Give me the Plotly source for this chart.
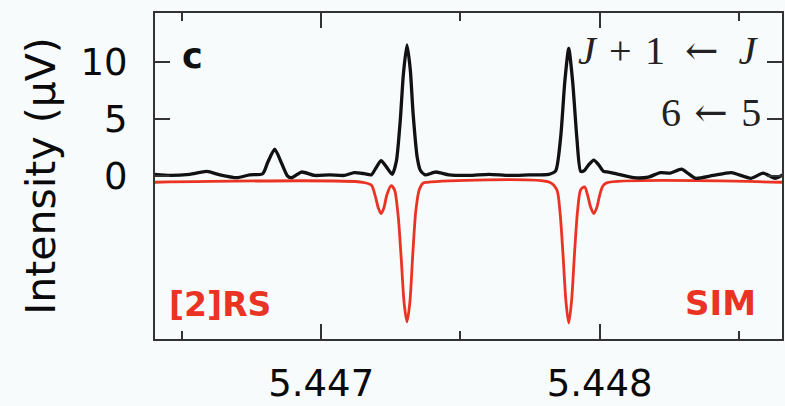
import plotly.graph_objects as go

# ---- data ----
freq_exp = [5.446403, 5.446457, 5.446528, 5.446589, 5.446636, 5.446697, 5.446743,
            5.446790, 5.446808, 5.446833, 5.446858, 5.446879, 5.446894, 5.446929,
            5.446976, 5.447030, 5.447083, 5.447119, 5.447155, 5.447180, 5.447194,
            5.447215, 5.447234, 5.447255, 5.447270, 5.447284, 5.447295, 5.447308,
            5.447320, 5.447330, 5.447345, 5.447356, 5.447373, 5.447412, 5.447459,
            5.447531, 5.447603, 5.447674, 5.447746, 5.447817, 5.447842, 5.447860,
            5.447875, 5.447889, 5.447903, 5.447918, 5.447932, 5.447946, 5.447961,
            5.447979, 5.447996, 5.448014, 5.448032, 5.448068, 5.448122, 5.448175,
            5.448218, 5.448254, 5.448294, 5.448319, 5.448344, 5.448408, 5.448473,
            5.448544, 5.448587, 5.448630, 5.448659]
intensity_exp = [0.15, 0.05, 0.15, 0.4, 0.1, -0.15, 0.1,
                 0.2, 1.2, 2.35, 1.1, 0.0, -0.15, 0.35,
                 0.05, 0.1, 0.05, 0.3, 0.2, 0.1, 0.6,
                 1.35, 0.8, 0.15, 1.3, 4.9, 8.9, 11.5,
                 9.3, 5.5, 1.6, 0.5, 0.1, 0.35, 0.1,
                 0.05, 0.15, 0.05, 0.1, 0.15, 0.45, 3.4,
                 8.3, 11.2, 8.3, 3.4, 0.4, 0.5, 1.0,
                 1.4, 1.0, 0.4, 0.35, 0.15, -0.15, -0.1,
                 0.3, 0.25, 0.6, 0.2, -0.2, 0.05, 0.3,
                 -0.2, 0.25, -0.2, 0.1]

freq_sim = [5.446403, 5.447150, 5.447180, 5.447194, 5.447205, 5.447215, 5.447225,
            5.447236, 5.447251, 5.447263, 5.447276, 5.447287, 5.447298, 5.447308,
            5.447318, 5.447329, 5.447340, 5.447352, 5.447366, 5.447380, 5.447820,
            5.447846, 5.447857, 5.447868, 5.447879, 5.447889, 5.447899, 5.447910,
            5.447921, 5.447932, 5.447946, 5.447957, 5.447968, 5.447979, 5.447990,
            5.448000, 5.448011, 5.448025, 5.448659]
intensity_sim = [-0.55, -0.55, -0.8, -1.75, -2.8, -3.3, -2.8,
                 -1.65, -0.85, -1.2, -3.4, -7.1, -11.2, -12.8,
                 -11.2, -6.8, -3.0, -1.2, -0.62, -0.55, -0.55,
                 -1.2, -3.0, -6.7, -11.0, -12.9, -11.0, -6.7,
                 -3.0, -1.2, -0.95, -1.7, -2.75, -3.3, -2.75,
                 -1.7, -0.9, -0.6, -0.55]

x_ticks = [5.447, 5.448]
x_minor = [5.4465, 5.4475, 5.4485]
y_ticks = [0, 5, 10]
x_range = [5.446403, 5.448655]
y_range = [-14.3, 14.3]

RED = "#ea3323"
BG = "#f8fbfc"
SANS = "DejaVu Sans"
SERIF = "Liberation Serif"
S3 = "\u2004"   # three-per-em space
S2 = "\u2002"   # en space
ARROW = '<span style="font-family:DejaVu Serif;font-size:40px">←</span>'

fig = go.Figure()
fig.add_trace(go.Scatter(x=freq_sim, y=intensity_sim, mode="lines",
                         line=dict(color=RED, width=2.8, shape="spline", smoothing=0.8),
                         showlegend=False, hoverinfo="skip"))
fig.add_trace(go.Scatter(x=freq_exp, y=intensity_exp, mode="lines",
                         line=dict(color="#111111", width=3.3, shape="spline", smoothing=0.6),
                         showlegend=False, hoverinfo="skip"))

fig.update_layout(
    width=785, height=406,
    margin=dict(l=155, r=1, t=13, b=61),
    paper_bgcolor=BG, plot_bgcolor=BG,
    font=dict(family=SANS, color="#111111"),
)
fig.update_xaxes(range=x_range, tickvals=x_ticks, ticktext=["5.447", "5.448"],
                 showline=True, linecolor="#333333", linewidth=2, mirror="allticks",
                 ticks="inside", ticklen=15, tickwidth=2, tickcolor="#333333",
                 minor=dict(tickvals=x_minor, ticks="inside", ticklen=8,
                            tickwidth=2, tickcolor="#333333"),
                 showgrid=False, zeroline=False,
                 tickfont=dict(size=37, family=SANS, color="#0a0a0a"),
                 ticklabelstandoff=11)
fig.update_yaxes(range=y_range, tickvals=y_ticks,
                 showline=True, linecolor="#333333", linewidth=2, mirror="allticks",
                 ticks="inside", ticklen=15, tickwidth=2, tickcolor="#333333",
                 showgrid=False, zeroline=False,
                 tickfont=dict(size=37, family=SANS, color="#0a0a0a"),
                 ticklabelstandoff=18,
                 title=dict(text="Intensity (µV)", font=dict(size=41, family=SANS, color="#0a0a0a"),
                            standoff=12))

ann = [
    dict(text="<b>c</b>", x=0.04, y=0.867, xanchor="left", yanchor="middle",
         font=dict(size=35, family=SANS, color="#111111")),
    dict(text=f"<i>J</i>{S3}+{S3}1{S2}{ARROW}{S2}<i>J</i>", x=0.9666, y=0.885,
         xanchor="right", yanchor="middle",
         font=dict(size=40, family=SERIF, color="#222222")),
    dict(text=f"6{S3}{ARROW}{S3}5", x=0.9698, y=0.697, xanchor="right", yanchor="middle",
         font=dict(size=40, family=SERIF, color="#222222")),
    dict(text="<b>[2]RS</b>", x=0.019, y=0.105, xanchor="left", yanchor="middle",
         font=dict(size=33, family=SANS, color=RED)),
    dict(text="<b>SIM</b>", x=0.962, y=0.111, xanchor="right", yanchor="middle",
         font=dict(size=34, family=SANS, color=RED)),
]
for a in ann:
    a.update(xref="paper", yref="paper", showarrow=False)
    fig.add_annotation(**a)

fig.write_html("out.html")
